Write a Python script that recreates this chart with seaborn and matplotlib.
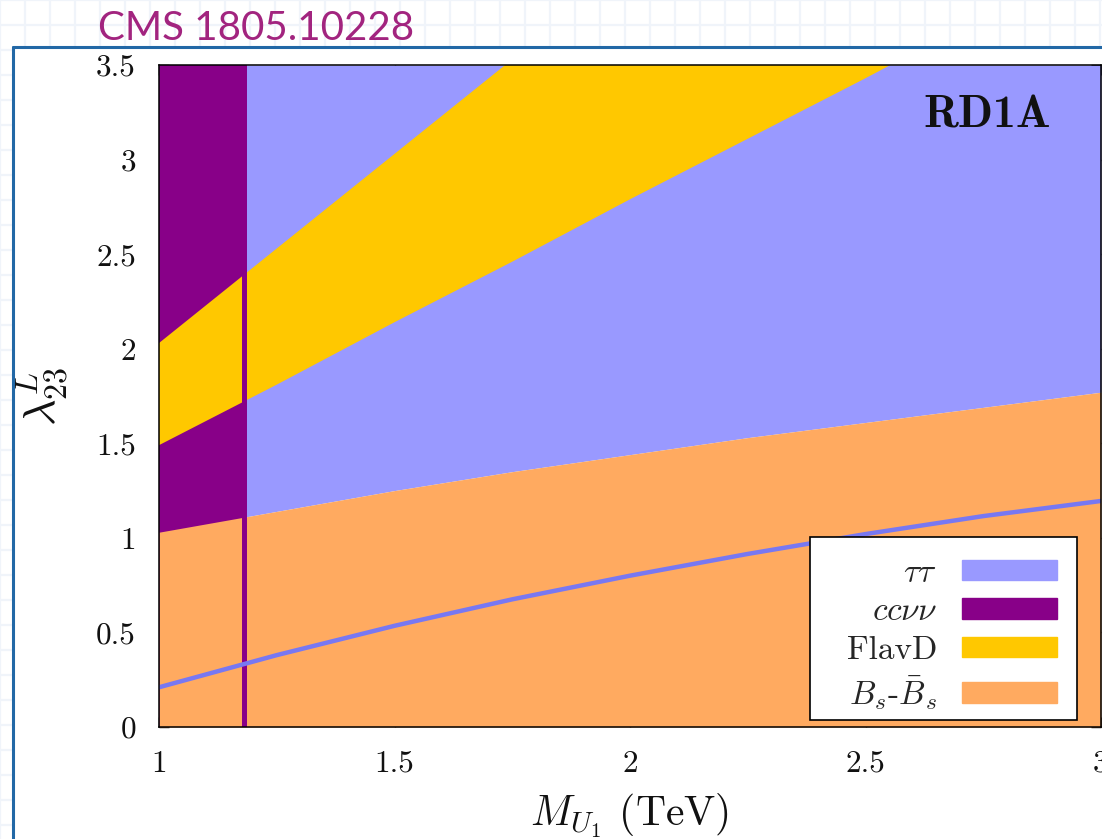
import numpy as np
import pandas as pd
import seaborn as sns
import matplotlib
matplotlib.use("Agg")
import matplotlib.pyplot as plt
from matplotlib.lines import Line2D
from matplotlib.patches import Patch, Rectangle

# ---------------- data ----------------
mass = [1.0, 1.25, 1.5, 1.75, 2.0, 2.25, 2.5, 2.75, 3.0]          # M_U1 (TeV)
bs_mixing_upper = [1.03, 1.14, 1.25, 1.35, 1.44, 1.53, 1.61, 1.69, 1.77]
flavd_lower = [1.49, 1.81, 2.14, 2.46, 2.79, 3.11, 3.43, 3.76, 4.08]
flavd_upper = [2.03, 2.53, 3.03, 3.53, 4.03, 4.53, 5.03, 5.53, 6.03]
tautau_line = [0.21, 0.38, 0.535, 0.675, 0.80, 0.915, 1.02, 1.115, 1.195]
ccvv_bound = 1.18                                                   # TeV
y_top = 3.5

x_ticks = [1.0, 1.5, 2.0, 2.5, 3.0]
x_ticklabels = ["1", "1.5", "2", "2.5", "3"]
y_ticks = [0, 0.5, 1, 1.5, 2, 2.5, 3, 3.5]
y_ticklabels = ["0", "0.5", "1", "1.5", "2", "2.5", "3", "3.5"]

legend_labels = [r"$\tau\tau$", r"$cc\nu\nu$", "FlavD", r"$B_s$-$\bar{B}_s$"]

# ---------------- style ----------------
C_TAU = "#9999FF"
C_CCVV = "#880088"
C_FLAV = "#FFC800"
C_BS = "#FFAA60"
C_LINE = "#7878F2"

sns.set_theme(style="ticks")
plt.rcParams["font.family"] = ["cmr10", "DejaVu Serif"]
plt.rcParams["mathtext.fontset"] = "cm"
plt.rcParams["axes.unicode_minus"] = False
plt.rcParams["axes.formatter.use_mathtext"] = True

W, H = 1102, 839
fig = plt.figure(figsize=(W / 100, H / 100), dpi=100)
fig.patch.set_facecolor("white")

# slide background: faint grid, white panel, blue border
for gx in range(0, W + 1, 25):
    fig.add_artist(Line2D([gx / W, gx / W], [0, 1], transform=fig.transFigure,
                          color="#F0F4FA", lw=1.6, zorder=-3))
for gy in range(0, H + 1, 25):
    fig.add_artist(Line2D([0, 1], [1 - gy / H, 1 - gy / H], transform=fig.transFigure,
                          color="#F0F4FA", lw=1.6, zorder=-3))
fig.add_artist(Rectangle((13 / W, 0), 1, 1 - 47 / H, transform=fig.transFigure,
                         facecolor="white", edgecolor="none", zorder=-2))
fig.add_artist(Line2D([13 / W, 13 / W], [0, 1 - 47 / H], transform=fig.transFigure,
                      color="#2268A6", lw=2.2, zorder=-1))
fig.add_artist(Line2D([13 / W, 1], [1 - 47 / H, 1 - 47 / H], transform=fig.transFigure,
                      color="#2268A6", lw=2.2, zorder=-1))
fig.text(98 / W, 1 - 28 / H, "CMS 1805.10228", family=["Lato", "DejaVu Sans"],
         fontsize=29, color="#A2247F", ha="left", va="center")

ax = fig.add_axes([159 / W, 1 - 727 / H, 942 / W, 662 / H])

df = pd.DataFrame({"mass": mass, "bs": bs_mixing_upper, "flo": flavd_lower,
                   "fhi": flavd_upper, "tau": tautau_line})

# tau tau region (everything above the Bs mixing bound)
ax.fill_between(df["mass"], df["bs"], y_top, color=C_TAU, lw=0, zorder=1)
# cc nu nu exclusion
ax.axvspan(mass[0], ccvv_bound, color=C_CCVV, lw=0, zorder=1.1)
# FlavD band
ax.fill_between(df["mass"], df["flo"], df["fhi"], color=C_FLAV, lw=0, zorder=1.2)
# Bs - Bsbar region
ax.fill_between(df["mass"], 0, df["bs"], color=C_BS, lw=0, zorder=1.3)
# ccvv boundary line
ax.axvline(ccvv_bound, color=C_CCVV, lw=3.6, zorder=1.4)
# tau tau curve
sns.lineplot(data=df, x="mass", y="tau", color=C_LINE, lw=3.2, ax=ax,
             legend=False, zorder=1.5)

ax.set_xlim(1.0, 3.0)
ax.set_ylim(0, y_top)
ax.set_xticks(x_ticks)
ax.set_xticklabels(x_ticklabels)
ax.set_yticks(y_ticks)
ax.set_yticklabels(y_ticklabels)
ax.tick_params(direction="in", length=7, width=1.0, color="black",
               labelsize=22.5, pad=16.5, top=True, right=True,
               labelcolor="#111111")
for s in ax.spines.values():
    s.set_color("black")
    s.set_linewidth(1.1)
    s.set_zorder(3)

ax.set_xlabel(r"$M_{U_1}$ (TeV)", fontsize=30, color="#111111")
ax.xaxis.set_label_coords(0.5, -0.098)
ax.set_ylabel(r"$\lambda^{L}_{23}$", fontsize=33, color="#111111")
ax.yaxis.set_label_coords(-0.095, 0.5)

ax.text(0.879, 0.923, "RD1A", transform=ax.transAxes, family=["cmb10", "DejaVu Serif"],
        fontsize=33, color="#111111", ha="center", va="center", zorder=4)

# legend box
x0 = (810 - 159) / 942
y0 = (727 - 720) / 662
ax.add_patch(Rectangle((x0, y0), (1077 - 810) / 942, (720 - 537) / 662,
                       transform=ax.transAxes, facecolor="white",
                       edgecolor="black", lw=1.2, zorder=4))
handles = [Patch(facecolor=c, edgecolor=c) for c in (C_TAU, C_CCVV, C_FLAV, C_BS)]
leg = ax.legend(handles, legend_labels, loc="lower right",
                bbox_to_anchor=((1057 - 159) / 942, (727 - 712) / 662),
                frameon=False, markerfirst=False, fontsize=24,
                handlelength=2.85, handleheight=0.55, handletextpad=0.75,
                labelspacing=0.28, borderpad=0, borderaxespad=0)
leg.set_zorder(5)

fig.savefig("out.png", dpi=100)
